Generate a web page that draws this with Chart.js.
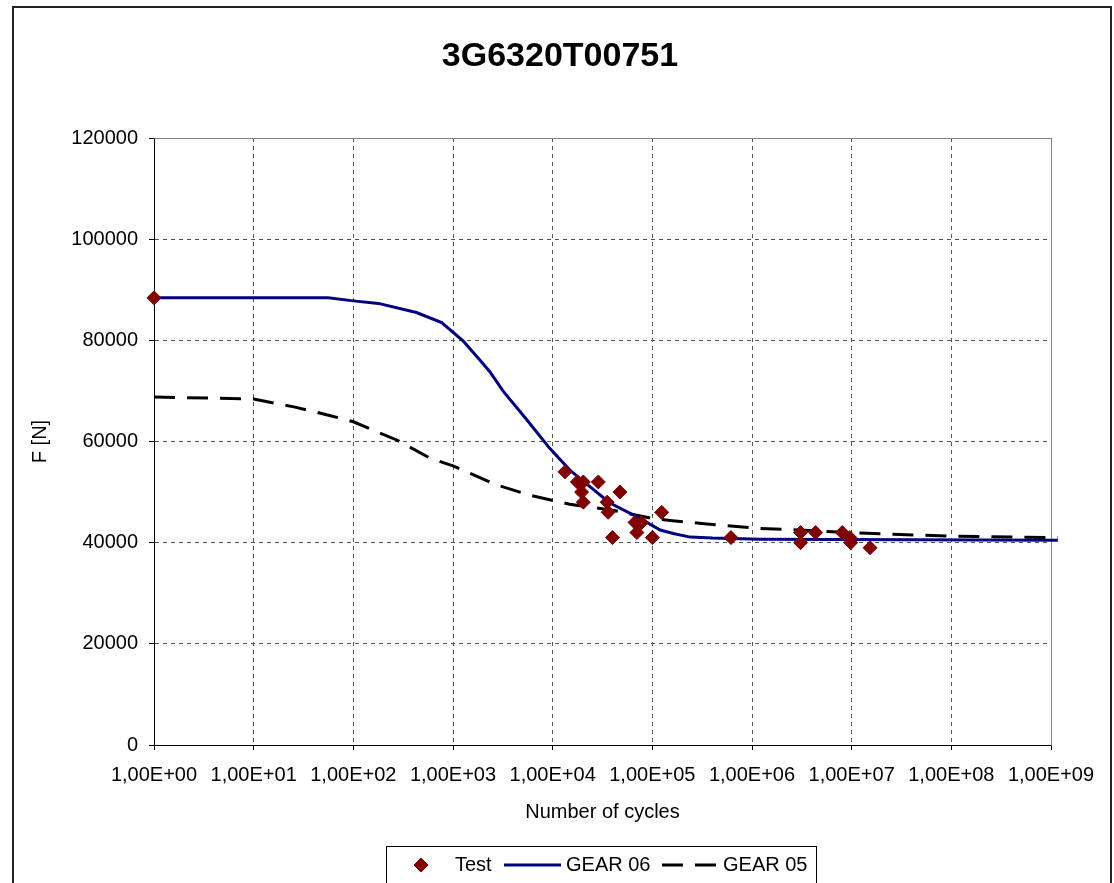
<!DOCTYPE html>
<html>
<head>
<meta charset="utf-8">
<title>3G6320T00751</title>
<script src="https://cdn.jsdelivr.net/npm/chart.js@4/dist/chart.umd.min.js"></script>
<style>
  html, body { margin: 0; padding: 0; background: #fff; }
  canvas { display: block; }
</style>
</head>
<body>
<canvas id="snChart" width="1114" height="883"></canvas>
<script>
'use strict';

const chartTitle = '3G6320T00751';

// Test results (cycles, force in N)
const testCycles = [1, 13300, 17700, 20300, 28700, 19500, 47300, 20300, 35200, 36000, 124000, 67000,
    78000, 70000, 39800, 100000, 615000, 3070000, 3070000, 4350000, 8050000, 9600000, 9770000, 15300000];
const testForce = [88400, 54000, 52000, 52000, 52000, 50000, 50000, 48000, 48000, 46000, 46000, 44000,
    44000, 42000, 41000, 41000, 41000, 42000, 40000, 42000, 42000, 41000, 40000, 39000];

// GEAR 06 curve
const gear06Cycles = [1, 56, 100, 178, 430, 770, 1260, 1860, 2340, 3200, 5500, 9300, 14800, 25000,
    34700, 40700, 75000, 120000, 162000, 240000, 400000, 1200000, 1170000000];
const gear06Force = [88400, 88400, 87800, 87300, 85500, 83500, 79900, 76100, 73800, 69900, 64300, 58700,
    54400, 50700, 48400, 47500, 44800, 42500, 41800, 41100, 40900, 40700, 40500];

// GEAR 05 curve
const gear05Cycles = [1, 10, 26, 59, 100, 272, 590, 1000, 2750, 5900, 9800, 14800, 40000, 100000,
    151000, 351000, 1200000, 3000000, 12000000, 26000000, 100000000, 1170000000];
const gear05Force = [68800, 68400, 66800, 65100, 63900, 60300, 56700, 55200, 51400, 49400, 48400, 47600,
    46400, 44800, 44400, 43700, 42800, 42500, 41900, 41650, 41300, 41000];

// Axis ticks
const xTickValues = [1, 1e1, 1e2, 1e3, 1e4, 1e5, 1e6, 1e7, 1e8, 1e9];
const xTickLabels = ['1,00E+00', '1,00E+01', '1,00E+02', '1,00E+03', '1,00E+04',
    '1,00E+05', '1,00E+06', '1,00E+07', '1,00E+08', '1,00E+09'];
const yTickValues = [0, 20000, 40000, 60000, 80000, 100000, 120000];

const toPoints = (xs, ys) => xs.map((x, i) => ({ x: x, y: ys[i] }));

const FONT = '"Liberation Sans", Arial, sans-serif';
Chart.defaults.font.family = FONT;
Chart.defaults.font.size = 20;
Chart.defaults.color = '#000';

// White page, title, plot frame, outer border and the boxed legend (Excel style)
const excelFrame = {
    id: 'excelFrame',
    beforeDraw(chart) {
        const ctx = chart.ctx;
        ctx.save();
        ctx.fillStyle = '#fff';
        ctx.fillRect(0, 0, chart.width, chart.height);
        // title is centred on the whole sheet, not on the layout box
        ctx.fillStyle = '#000';
        ctx.font = 'bold 34px ' + FONT;
        ctx.textAlign = 'center';
        ctx.textBaseline = 'middle';
        ctx.fillText(chartTitle, 560, 57);
        ctx.restore();
    },
    beforeDatasetsDraw(chart) {
        const { ctx, chartArea: a } = chart;
        ctx.save();
        ctx.strokeStyle = '#808080';
        ctx.lineWidth = 1;
        ctx.beginPath();
        ctx.moveTo(Math.round(a.left) + 0.5, Math.round(a.top) + 0.5);
        ctx.lineTo(Math.round(a.right) + 0.5, Math.round(a.top) + 0.5);
        ctx.lineTo(Math.round(a.right) + 0.5, Math.round(a.bottom) + 0.5);
        ctx.stroke();
        ctx.restore();
    },
    afterDraw(chart) {
        const ctx = chart.ctx;
        const ds = chart.data.datasets;
        ctx.save();
        // outer chart border
        ctx.strokeStyle = '#222';
        ctx.lineWidth = 2;
        ctx.strokeRect(13, 7, 1098, 950);

        // legend box
        const lx = 386.5, ly = 846.5, cy = 865;
        ctx.lineWidth = 1;
        ctx.strokeStyle = '#000';
        ctx.strokeRect(lx, ly, 430, 60);

        ctx.font = '20px ' + FONT;
        ctx.textBaseline = 'middle';
        ctx.textAlign = 'left';

        // Test
        ctx.fillStyle = ds[0].backgroundColor;
        ctx.strokeStyle = ds[0].borderColor;
        Chart.helpers.drawPoint(ctx, { pointStyle: 'rectRot', radius: 7, borderWidth: 1, rotation: 0 }, 421, cy);
        ctx.fillStyle = '#000';
        ctx.fillText(ds[0].label, 455, cy);

        // GEAR 06
        ctx.strokeStyle = ds[1].borderColor;
        ctx.lineWidth = ds[1].borderWidth;
        ctx.beginPath();
        ctx.moveTo(504, cy);
        ctx.lineTo(561, cy);
        ctx.stroke();
        ctx.fillText(ds[1].label, 566, cy);

        // GEAR 05
        ctx.strokeStyle = ds[2].borderColor;
        ctx.lineWidth = ds[2].borderWidth;
        ctx.setLineDash(ds[2].borderDash);
        ctx.beginPath();
        ctx.moveTo(662, cy);
        ctx.lineTo(716, cy);
        ctx.stroke();
        ctx.setLineDash([]);
        ctx.fillText(ds[2].label, 723, cy);
        ctx.restore();
    }
};

const ctx = document.getElementById('snChart').getContext('2d');
const snChart = new Chart(ctx, {
    type: 'scatter',
    data: {
        datasets: [{
            label: 'Test',
            data: toPoints(testCycles, testForce),
            pointStyle: 'rectRot',
            pointRadius: 7,
            pointHoverRadius: 7,
            backgroundColor: '#800000',
            borderColor: '#800000',
            borderWidth: 1,
            clip: false
        }, {
            label: 'GEAR 06',
            data: toPoints(gear06Cycles, gear06Force),
            showLine: true,
            pointRadius: 0,
            borderColor: '#000080',
            backgroundColor: '#000080',
            borderWidth: 3,
            tension: 0,
            clip: { left: 0, top: 0, right: 8, bottom: 0 }
        }, {
            label: 'GEAR 05',
            data: toPoints(gear05Cycles, gear05Force),
            showLine: true,
            pointRadius: 0,
            borderColor: '#000',
            backgroundColor: '#000',
            borderWidth: 3,
            borderDash: [21, 12],
            tension: 0,
            clip: { left: 0, top: 0, right: 8, bottom: 0 }
        }]
    },
    options: {
        responsive: false,
        animation: false,
        devicePixelRatio: 1,
        layout: {
            padding: { left: 0, top: 138, right: 63, bottom: 0 }
        },
        plugins: {
            legend: { display: false },
            tooltip: { enabled: false },
            title: { display: false }
        },
        scales: {
            x: {
                type: 'logarithmic',
                min: 1,
                max: 1e9,
                afterBuildTicks(scale) {
                    scale.ticks = xTickValues.map(v => ({ value: v }));
                },
                afterFit(scale) {
                    scale.height = 138;
                },
                ticks: {
                    autoSkip: false,
                    maxRotation: 0,
                    minRotation: 0,
                    padding: 13,
                    callback: (value) => xTickLabels[xTickValues.indexOf(value)]
                },
                grid: {
                    color: '#555',
                    tickColor: '#000',
                    tickLength: 5
                },
                border: {
                    color: '#000',
                    dash: [4, 4]
                },
                title: {
                    display: true,
                    text: 'Number of cycles',
                    padding: { top: 0, bottom: 59 }
                }
            },
            y: {
                min: 0,
                max: 120000,
                afterBuildTicks(scale) {
                    scale.ticks = yTickValues.map(v => ({ value: v }));
                },
                afterFit(scale) {
                    scale.width = 154;
                },
                ticks: {
                    padding: 11,
                    callback: (value) => String(value)
                },
                grid: {
                    color: '#555',
                    tickColor: '#000',
                    tickLength: 5
                },
                border: {
                    color: '#000',
                    dash: [4, 4]
                },
                title: {
                    display: true,
                    text: 'F [N]',
                    padding: { top: 28, bottom: 0 }
                }
            }
        }
    },
    plugins: [excelFrame]
});
</script>
</body>
</html>
